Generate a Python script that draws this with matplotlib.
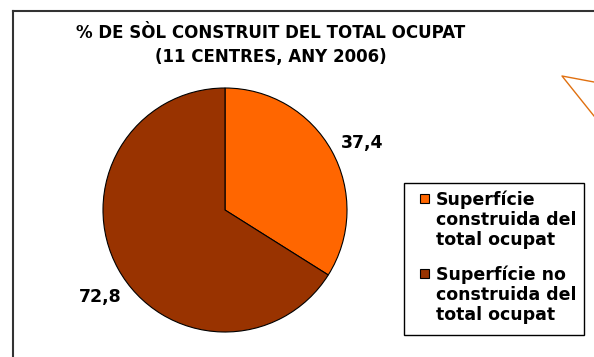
import numpy as np
import matplotlib
matplotlib.use("Agg")
import matplotlib.pyplot as plt
from matplotlib.lines import Line2D
from matplotlib.patches import Rectangle

# Data
categories = ["Superfície\nconstruida del\ntotal ocupat",
              "Superfície no\nconstruida del\ntotal ocupat"]
values = [37.4, 72.8]
value_labels = ["37,4", "72,8"]
colors = ["#FF6600", "#993300"]

W, H = 594, 357
fig = plt.figure(figsize=(W / 100, H / 100), dpi=100)
fig.patch.set_facecolor("white")


def fx(px):
    return px / W


def fy(py):
    return 1 - py / H


# Outer chart frame (left and top edges)
fig.add_artist(Line2D([fx(12.5), fx(12.5)], [0, fy(10.5)], transform=fig.transFigure,
                      color="#333333", lw=1.5))
fig.add_artist(Line2D([fx(12.5), 1], [fy(10.5), fy(10.5)], transform=fig.transFigure,
                      color="#333333", lw=1.5))

# Decorative callout lines at top right
fig.add_artist(Line2D([1, fx(562), fx(594)], [fy(82), fy(76), fy(116)],
                      transform=fig.transFigure, color="#E07010", lw=1.0))

# Title
fig.text(fx(271), fy(33), "% DE SÒL CONSTRUIT DEL TOTAL OCUPAT",
         ha="center", va="center", fontsize=12, fontweight="bold", family="DejaVu Sans")
fig.text(fx(271), fy(57), "(11 CENTRES, ANY 2006)",
         ha="center", va="center", fontsize=12, fontweight="bold", family="DejaVu Sans")

# Pie axes
cx, cy, r = 225, 210, 122
ax = fig.add_axes([fx(cx - r), fy(cy + r), 2 * r / W, 2 * r / H])
wedges, _ = ax.pie(values, colors=colors, startangle=90, counterclock=False, radius=1,
                   wedgeprops=dict(edgecolor="black", linewidth=0.8))
ax.set_xlim(-1, 1)
ax.set_ylim(-1, 1)
ax.set_aspect("equal")
ax.axis("off")

# Value labels placed outside each wedge
offsets = [-3, 6]
for w, lab, off in zip(wedges, value_labels, offsets):
    ang = np.deg2rad((w.theta1 + w.theta2) / 2 + off)
    ax.text(1.25 * np.cos(ang), 1.25 * np.sin(ang), lab, ha="center", va="center",
            fontsize=12.5, fontweight="bold", clip_on=False)

# Legend box, drawn piece by piece so the markers sit beside the first line
fig.add_artist(Rectangle((fx(404), fy(335)), fx(584) - fx(404), fy(183) - fy(335),
                         transform=fig.transFigure, facecolor="white",
                         edgecolor="black", lw=1.0))
entry_baselines = [205, 280]
line_pitch = 20
marker = 9
for cat, col, base in zip(categories, colors, entry_baselines):
    fig.add_artist(Rectangle((fx(419.5), fy(base - 2)), marker / W, marker / H,
                             transform=fig.transFigure, facecolor=col,
                             edgecolor="black", lw=0.8))
    for i, line in enumerate(cat.split("\n")):
        fig.text(fx(436), fy(base + i * line_pitch), line, ha="left", va="baseline",
                 fontsize=12.5, fontweight="bold", family="DejaVu Sans")

fig.savefig("out.png", dpi=100)
